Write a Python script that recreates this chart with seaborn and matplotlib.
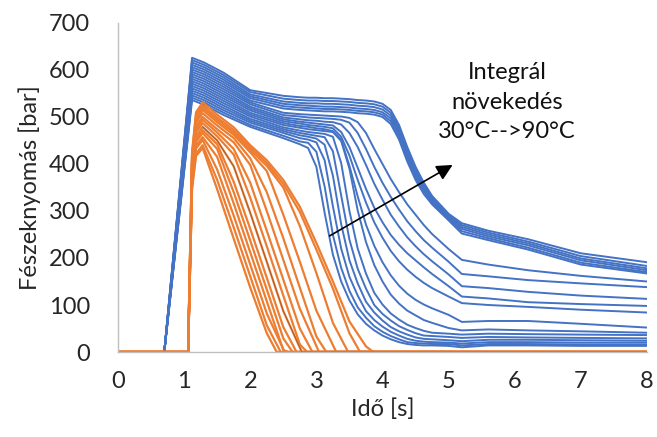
import matplotlib
matplotlib.use("Agg")
import matplotlib.pyplot as plt
import seaborn as sns
import pandas as pd

# -----------------------------
# DATA
# -----------------------------
# blue curves share one time grid [s]
blue_time = [0, 0.70, 1.12, 1.3, 1.6, 2.0, 2.5, 2.75, 2.875, 3.0, 3.125, 3.25, 3.375,
             3.5, 3.625, 3.75, 3.875, 4.0, 4.125, 4.25, 4.375, 4.5, 4.625, 4.75,
             5.0, 5.2, 5.6, 6.2, 7.0, 8.0]

# cavity pressure [bar], one row per blue curve (lowest -> highest)
blue_rows = [
    [0, 0, 536, 526, 504, 479, 455, 442, 434, 394, 296, 207, 150, 110, 80, 60, 46, 35, 27, 21, 17, 15, 14, 14, 13, 10, 14, 14, 13, 13],
    [0, 0, 541, 531, 509, 483, 460, 448, 445, 426, 352, 249, 179, 130, 95, 73, 55, 43, 34, 27, 21, 19, 18, 17, 17, 14, 17, 17, 16, 16],
    [0, 0, 546, 536, 514, 488, 466, 455, 452, 446, 408, 310, 220, 160, 120, 87, 68, 54, 43, 35, 28, 24, 22, 21, 20, 18, 21, 21, 20, 20],
    [0, 0, 551, 541, 519, 492, 470, 461, 458, 454, 441, 375, 272, 195, 146, 107, 84, 67, 53, 44, 37, 31, 28, 27, 25, 23, 26, 26, 25, 24],
    [0, 0, 556, 546, 524, 496, 474, 466, 463, 460, 457, 427, 333, 239, 177, 135, 100, 81, 67, 55, 47, 40, 35, 34, 32, 30, 32, 31, 30, 29],
    [0, 0, 561, 551, 529, 501, 478, 471, 468, 466, 464, 458, 402, 300, 220, 167, 126, 101, 82, 69, 58, 51, 45, 41, 39, 37, 39, 38, 37, 36],
    [0, 0, 566, 556, 534, 505, 483, 477, 474, 472, 470, 468, 449, 390, 301, 234, 185, 150, 122, 103, 88, 78, 68, 62, 51, 46, 48, 46, 44, 41],
    [0, 0, 571, 561, 539, 509, 487, 481, 479, 476, 474, 470, 452, 396, 331, 271, 226, 191, 163, 141, 124, 111, 101, 93, 79, 64, 66, 66, 60, 52],
    [0, 0, 576, 566, 544, 514, 491, 486, 483, 481, 479, 476, 458, 418, 366, 318, 276, 243, 215, 193, 175, 160, 147, 136, 118, 104, 100, 96, 90, 84],
    [0, 0, 581, 571, 549, 518, 495, 490, 488, 486, 484, 482, 468, 436, 392, 347, 307, 276, 249, 228, 210, 195, 180, 166, 140, 118, 114, 106, 102, 98],
    [0, 0, 586, 576, 554, 522, 499, 495, 493, 492, 490, 489, 484, 466, 436, 398, 358, 324, 292, 267, 244, 225, 208, 193, 165, 140, 136, 128, 120, 113],
    [0, 0, 591, 581, 559, 527, 504, 501, 499, 498, 497, 496, 494, 488, 466, 432, 394, 360, 330, 303, 278, 257, 238, 222, 192, 166, 161, 153, 146, 138],
    [0, 0, 596, 586, 564, 531, 509, 506, 505, 504, 503, 502, 501, 498, 489, 466, 432, 400, 368, 340, 314, 292, 270, 251, 219, 196, 186, 174, 162, 150],
    [0, 0, 601, 591, 569, 535, 518, 515, 514, 513, 512, 512, 511, 510, 508, 507, 505, 500, 485, 452, 405, 366, 336, 314, 280, 252, 238, 218, 186, 167],
    [0, 0, 606, 596, 574, 540, 523, 520, 519, 518, 517, 517, 516, 515, 513, 512, 510, 505, 491, 459, 412, 372, 342, 318, 283, 257, 242, 222, 190, 170],
    [0, 0, 611, 601, 579, 544, 528, 525, 524, 523, 522, 522, 521, 520, 518, 517, 515, 510, 497, 465, 418, 378, 346, 321, 285, 262, 246, 227, 195, 174],
    [0, 0, 616, 606, 584, 548, 533, 530, 529, 529, 528, 528, 527, 526, 524, 523, 521, 516, 503, 471, 424, 384, 350, 325, 288, 266, 250, 231, 199, 178],
    [0, 0, 621, 611, 589, 553, 539, 536, 535, 535, 534, 534, 533, 532, 530, 529, 527, 522, 509, 477, 430, 389, 355, 328, 291, 270, 254, 235, 204, 183],
    [0, 0, 626, 616, 594, 557, 545, 542, 541, 541, 540, 540, 539, 538, 536, 535, 533, 528, 515, 483, 436, 394, 360, 332, 294, 274, 258, 240, 210, 191],
]

# orange curves: values on this grid until they reach zero
orange_time = [0, 1.06, 1.12, 1.18, 1.28, 1.5, 1.75, 2.0, 2.25, 2.5, 2.75, 3.0, 3.25, 3.5, 3.75]
orange_rows = [
    [0, 0, 347, 417, 434, 346, 241, 137, 40],
    [0, 0, 352, 422, 440, 366, 265, 161, 57],
    [0, 0, 361, 433, 451, 388, 290, 186, 82],
    [0, 0, 366, 439, 457, 415, 316, 212, 108, 4],
    [0, 0, 373, 447, 466, 432, 340, 237, 133, 29],
    [0, 0, 378, 453, 472, 442, 362, 262, 158, 53],
    [0, 0, 383, 460, 479, 450, 395, 296, 192, 87],
    [0, 0, 390, 468, 487, 459, 420, 328, 225, 120, 16],
    [0, 0, 395, 474, 494, 467, 432, 360, 258, 154, 50],
    [0, 0, 400, 480, 500, 474, 446, 398, 300, 196, 92],
    [0, 0, 406, 488, 508, 482, 455, 412, 340, 242, 137, 33],
    [0, 0, 412, 494, 515, 489, 462, 425, 385, 292, 192, 88],
    [0, 0, 416, 499, 520, 494, 467, 430, 396, 350, 268, 168, 62],
    [0, 0, 420, 504, 525, 499, 472, 435, 402, 358, 298, 218, 135, 40],
    [0, 0, 425, 510, 531, 505, 478, 440, 408, 366, 309, 232, 150, 65, 12],
]
# time at which each orange curve is back to 0 bar
orange_zero = [2.40, 2.46, 2.52, 2.58, 2.64, 2.70, 2.78, 2.86, 2.94, 3.04, 3.15, 3.30, 3.48, 3.66, 3.86]

x_ticks = [0, 1, 2, 3, 4, 5, 6, 7, 8]
y_ticks = [0, 100, 200, 300, 400, 500, 600, 700]

# -----------------------------
# LONG FORMAT
# -----------------------------
recs = []
for k, row in enumerate(blue_rows):
    for t, p in zip(blue_time, row):
        recs.append(("blue", k, t, p))
blue_df = pd.DataFrame(recs, columns=["group", "curve", "t", "p"])

recs = []
for k, row in enumerate(orange_rows):
    ts = orange_time[:len(row)] + [orange_zero[k], 8.0]
    ps = row + [0, 0]
    for t, p in zip(ts, ps):
        recs.append(("orange", k, t, p))
orange_df = pd.DataFrame(recs, columns=["group", "curve", "t", "p"])

# -----------------------------
# PLOT
# -----------------------------
sns.set_style("white")
plt.rcParams["font.family"] = ["Lato", "DejaVu Sans"]

fig = plt.figure(figsize=(6.57, 4.37), dpi=100)
ax = fig.add_axes([0.1796, 0.1945, 0.8052, 0.7529])

sns.lineplot(data=blue_df, x="t", y="p", units="curve", estimator=None,
             sort=False, color="#4472C4", lw=1.4, ax=ax)
sns.lineplot(data=orange_df, x="t", y="p", units="curve", estimator=None,
             sort=False, color="#ED7D31", lw=1.6, ax=ax)

# thin dark trace sitting on one of the orange curves (after its peak)
dark = orange_df[(orange_df["curve"] == 6) & (orange_df["t"] >= 1.28)]
ax.plot(dark["t"], dark["p"], color="#333333", lw=0.6, alpha=0.45)

ax.set_xlim(0, 8)
ax.set_ylim(0, 700)
ax.set_xticks(x_ticks)
ax.set_yticks(y_ticks)
ax.tick_params(length=0, labelsize=17, colors="#262626")
ax.tick_params(axis="y", pad=20)
ax.tick_params(axis="x", pad=14)

for s in ["top", "right"]:
    ax.spines[s].set_visible(False)
for s in ["left", "bottom"]:
    ax.spines[s].set_color("#BFBFBF")
    ax.spines[s].set_linewidth(1.0)

ax.set_xlabel("Idő [s]", fontsize=17, color="#262626", labelpad=4)
ax.set_ylabel("Fészeknyomás [bar]", fontsize=17, color="#262626", labelpad=6)

ax.annotate("", xy=(5.06, 398), xytext=(3.2, 247),
            arrowprops=dict(arrowstyle="-|>", color="black", lw=1.2,
                            mutation_scale=24, shrinkA=0, shrinkB=0))
ax.text(5.88, 531, "Integrál\nnövekedés\n30°C-->90°C", ha="center", va="center",
        fontsize=17, linespacing=1.5, color="#111111")

fig.savefig("out.png", dpi=100)
